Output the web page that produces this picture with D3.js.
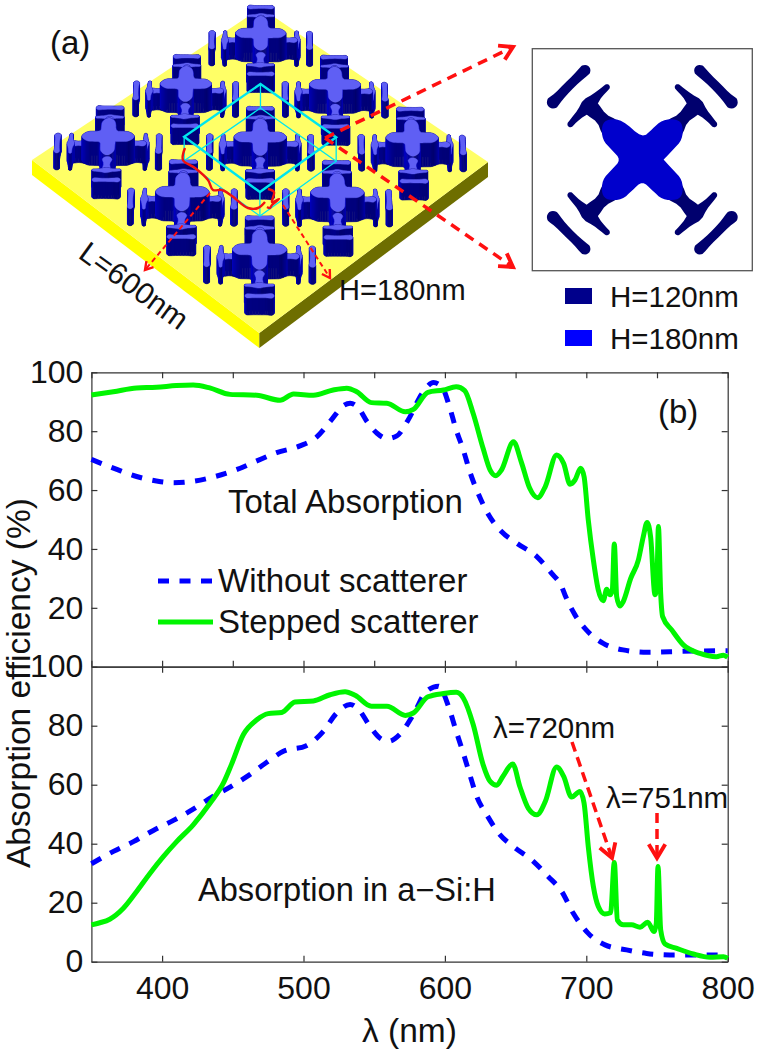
<!DOCTYPE html>
<html>
<head>
<meta charset="utf-8">
<script src="https://cdn.jsdelivr.net/npm/d3@7"></script>
<style>
  html, body { margin: 0; padding: 0; background: #fff; }
  svg { display: block; }
  text { font-family: "Liberation Sans", Arial, sans-serif; fill: #111; }
</style>
</head>
<body>
<svg id="fig" width="758" height="1053"></svg>
<script>
// wavelength (nm), absorption (%)
var totalWithout = [[350,70.4],[368,67],[382,64.6],[397,63],[408,62.5],[422,63],[437.5,64.6],[453,67],[467,69.9],[481,72.7],[497.5,75],[509,77.9],[520,84],[528,88.6],[533,89.5],[539,87.8],[545,83.2],[552,79.3],[559,77.5],[566,78.4],[574,83.8],[584,92.9],[592,96.5],[598,95],[602.5,89.5],[608,80.4],[613,73.6],[618,65.7],[624,58.3],[631,51.5],[640,45.9],[651,41.9],[665,37.4],[675.5,31.7],[682.6,27.2],[685,24.3],[692,17.6],[700,12.5],[712,7.9],[726,5.7],[743,4.9],[759,5.1],[776,5.3],[800,5.4]];
var totalStepped = [[350,92.3],[365.5,93.4],[382,94.7],[396,94.9],[410,95.5],[422,95.7],[433.7,94.7],[448,92.5],[467,92.2],[483.4,90.5],[493,92.6],[507,92.2],[521,94],[530.6,94.6],[537.6,93.4],[548,89.7],[558.9,89.5],[572,86.6],[577.7,87.4],[588,93.2],[599,94],[608,95.1],[614,93.8],[620,86],[627,74.2],[632,66.8],[636,64.9],[640,66.8],[648.5,76.4],[654,69.6],[660,60.6],[665.6,57.4],[671,61.2],[679,71.9],[684,69],[688.5,62],[692,63.4],[696,67.4],[698.4,64.6],[701.4,49.8],[705,36.2],[708.5,26],[712,22.4],[714.4,26.3],[716.8,24.4],[718.4,26],[719.8,41.7],[721.5,23.8],[723.8,20.6],[726,22],[731.4,30],[736.8,36.2],[740.3,44.2],[743,49],[745.5,44],[748.6,24.4],[749.8,26],[751,47.6],[752.6,24.9],[754,17],[760.4,12.5],[768.6,7.4],[780.4,4.5],[792,3.4],[797,3.9],[800,3.2]];
var siWithout = [[350,33.2],[365.6,37.4],[379.7,40.7],[393.8,44.5],[408,47.9],[422,51.7],[436,56],[448,59.2],[462,63.4],[474,67.6],[485.8,71.3],[502,73.2],[514,78.1],[523.5,84.3],[533,87.2],[539,85.5],[547,79.8],[554,75.8],[560,74.7],[568,77],[577.7,83.8],[587,91.7],[595.4,93.4],[602.5,86.6],[608,78.1],[613,70.7],[618,62.8],[622.5,56],[629.6,49.8],[638,43.6],[648.4,39],[661.4,34.5],[673,28.9],[682.6,23.8],[690.8,16.4],[701.4,9.6],[713.2,5.7],[728.5,4],[742.7,2.8],[759,2.3],[775.7,2.3],[800,2.3]];
var siStepped = [[350,12.5],[356,13.2],[363,14.4],[372.6,18.1],[382,23.8],[391.5,30],[401,35.7],[410.3,40.7],[422,46.4],[434,53.8],[443.4,60.6],[449,66.8],[457.5,77],[467,82],[475,84.1],[484.6,84.5],[494,88],[507,88.4],[518.8,90.5],[529.4,91.5],[536.5,90.3],[548,86.6],[559,86.6],[572,83.5],[577.7,84.3],[588,89.8],[599,90.9],[608,91.3],[613,89.4],[620,80.4],[627,66.8],[632,61.1],[636.6,59.8],[641,62.8],[648,67],[653,59.4],[659,52],[665,49.8],[671,54.3],[679,66],[684,62.8],[689.6,55.8],[695.5,57.7],[698.4,53.8],[701.4,39],[705,25.5],[708.5,18.7],[713,16.2],[717.2,16.6],[719.8,33.6],[722,14.1],[726.2,12.5],[732,12.5],[738,11.7],[743.4,13.4],[748,10.2],[749.5,13],[750.7,32.3],[752.6,10.8],[755.7,6],[764,4.5],[775.7,2.6],[787.5,1.5],[797,1.7],[800,1.1]];

var yTicks = [0, 20, 40, 60, 80, 100];
var xTicksFine = [350, 400, 450, 500, 550, 600, 650, 700, 750, 800];
var xTicks = [400, 500, 600, 700, 800];

// scatterer outline, in inset units (cell = 660 wide), upper right quadrant only
var crossOutline = [[0,64],[30,92],[60,120],[104,122],[122,104],[120,60],[92,30],[64,0]];
var stemSpine = [[100,100],[122,124],[148,150]];
var stemWidth = [30,17,24];
var barSpine = [[106,218],[118,207],[138,188],[160,164],[184,140],[204,120],[216,106]];
var barWidth = [9,10,13,24,13,10,9];
var outerSpine = [[172,268],[197,244],[225,217],[250,190],[268,172]];
var outerWidth = [17,14,14,15,19];
var cells = [0, 1, 2];

var svg = d3.select('#fig');

// ---- panel (b): the two stacked plots
var x = d3.scaleLinear().domain([350, 800]).range([91.4, 727.7]);
var yTop = d3.scaleLinear().domain([0, 100]).range([666.7, 372.3]);
var yBot = d3.scaleLinear().domain([0, 100]).range([961.7, 666.7]);

function drawAxes(y, ticksX, hideZero) {
  var xIn = svg.append('g').attr('transform', 'translate(0,' + y.range()[0] + ')')
    .call(d3.axisBottom(x).tickValues(ticksX).tickSizeInner(-6).tickSizeOuter(0).tickFormat(''));
  var xOut = svg.append('g').attr('transform', 'translate(0,' + y.range()[1] + ')')
    .call(d3.axisTop(x).tickValues(ticksX).tickSizeInner(-6).tickSizeOuter(0).tickFormat(''));
  var yL = svg.append('g').attr('transform', 'translate(' + x.range()[0] + ',0)')
    .call(d3.axisLeft(y).tickValues(hideZero ? yTicks.slice(1) : yTicks).tickSizeInner(-6).tickSizeOuter(0).tickPadding(8));
  var yR = svg.append('g').attr('transform', 'translate(' + x.range()[1] + ',0)')
    .call(d3.axisRight(y).tickValues(yTicks).tickSizeInner(-6).tickSizeOuter(0).tickFormat(''));
  [xIn, xOut, yL, yR].forEach(function(g) {
    g.selectAll('path,line').attr('stroke', '#333').attr('stroke-width', 1.2);
    g.selectAll('text').style('font-size', '32px').attr('fill', '#111').style('font-family', '"Liberation Sans"');
  });
}

drawAxes(yTop, xTicksFine, true);
drawAxes(yBot, xTicks, false);

svg.append('g').attr('transform', 'translate(0,' + yBot.range()[0] + ')')
  .call(d3.axisBottom(x).tickValues(xTicks).tickSize(0).tickPadding(15))
  .call(function(g) {
    g.select('.domain').remove();
    g.selectAll('text').style('font-size', '32px').attr('fill', '#111').style('font-family', '"Liberation Sans"');
  });

function drawCurve(data, y, colour, dash) {
  var line = d3.line().x(function(d) { return x(d[0]); }).y(function(d) { return y(d[1]); })
    .curve(d3.curveMonotoneX);
  svg.append('path').attr('d', line(data)).attr('fill', 'none')
    .attr('stroke', colour).attr('stroke-width', 5)
    .attr('stroke-dasharray', dash || null).attr('stroke-linejoin', 'round');
}

drawCurve(totalWithout, yTop, '#0000ff', '11,10.5');
drawCurve(totalStepped, yTop, '#00f500');
drawCurve(siWithout, yBot, '#0000ff', '11,10.5');
drawCurve(siStepped, yBot, '#00f500');

function label(s, px, py, size, rotate) {
  var t = svg.append('text').attr('x', px).attr('y', py).style('font-size', size + 'px').text(s);
  if (rotate) t.attr('transform', 'rotate(' + rotate + ' ' + px + ' ' + py + ')');
  return t;
}

label('Total Absorption', 228, 513, 33);
label('Without scatterer', 218, 592, 33);
label('Stepped scatterer', 218, 633, 33);
label('(b)', 658, 423, 33);
label('Absorption in a\u2212Si:H', 198, 901, 32.6);
label('\u03bb=720nm', 493, 738, 29.5);
label('\u03bb=751nm', 606, 808, 29.5);
label('\u03bb (nm)', 362, 1042, 33.5);
label('Absorption efficiency (%)', 30, 868, 33.5, -90);

svg.append('line').attr('x1', 158).attr('x2', 213).attr('y1', 581).attr('y2', 581)
  .attr('stroke', '#0000ff').attr('stroke-width', 5).attr('stroke-dasharray', '11,10.5');
svg.append('line').attr('x1', 158).attr('x2', 213).attr('y1', 622).attr('y2', 622)
  .attr('stroke', '#00f500').attr('stroke-width', 5);

// ---- scatterer shape, built once from the outline arrays
function chaikin(pts, n) {
  for (var k = 0; k < n; k++) {
    var out = [];
    pts.forEach(function(p, i) {
      var q = pts[(i + 1) % pts.length];
      out.push([p[0] * .75 + q[0] * .25, p[1] * .75 + q[1] * .25]);
      out.push([p[0] * .25 + q[0] * .75, p[1] * .25 + q[1] * .75]);
    });
    pts = out;
  }
  return pts;
}

// half circle of points round an end of a spine
function cap(c, dir, r) {
  var a0 = Math.atan2(dir[1], dir[0]);
  return [.8, .4, 0, -.4, -.8].map(function(k) {
    var t = a0 + k * Math.PI / 2;
    return [c[0] + r * Math.cos(t), c[1] + r * Math.sin(t)];
  });
}

// outline around a spine with a half width at each spine point, ends capped
function ribbon(spine, width) {
  var left = [], right = [], n = spine.length;
  spine.forEach(function(p, i) {
    var a = spine[Math.max(i - 1, 0)], b = spine[Math.min(i + 1, n - 1)];
    var dx = b[0] - a[0], dy = b[1] - a[1], l = Math.hypot(dx, dy);
    left.push([p[0] - dy / l * width[i], p[1] + dx / l * width[i]]);
    right.push([p[0] + dy / l * width[i], p[1] - dx / l * width[i]]);
  });
  var d0 = [spine[0][0] - spine[1][0], spine[0][1] - spine[1][1]];
  var d1 = [spine[n-1][0] - spine[n-2][0], spine[n-1][1] - spine[n-2][1]];
  return chaikin(left.concat(cap(spine[n-1], d1, width[n-1]), right.reverse(), cap(spine[0], d0, width[0])), 1);
}

function mirrored(pts, sx, sy) {
  return pts.map(function(p) { return [p[0] * sx, p[1] * sy]; });
}

// full cross from one quadrant
var q1 = crossOutline;
var q2 = crossOutline.slice(1).reverse().map(function(p) { return [p[0], -p[1]]; });
var q3 = crossOutline.slice(0, -1).map(function(p) { return [-p[0], -p[1]]; });
var q4 = crossOutline.slice(1).reverse().map(function(p) { return [-p[0], p[1]]; }).slice(0, -1);
var crossShape = chaikin(q1.concat(q2, q3, q4), 2);

var pieces = [{ pts: crossShape, high: true }];
[[1,1],[1,-1],[-1,-1],[-1,1]].forEach(function(s) {
  pieces.push({ pts: mirrored(ribbon(stemSpine, stemWidth), s[0], s[1]), high: false });
  pieces.push({ pts: mirrored(ribbon(barSpine, barWidth), s[0], s[1]), high: false });
  pieces.push({ pts: mirrored(ribbon(outerSpine, outerWidth), s[0], s[1]), high: false });
});

// ---- panel (a): plate seen in perspective, unit square mapped to four corners
var plateCorners = [[261,8],[488,162],[259.3,333],[32,160]];
var plateDepth = 15;
var cellHeight = 660;
var highPx = 24, lowPx = 17;

function homography(c) {
  var dx1 = c[1][0] - c[2][0], dx2 = c[3][0] - c[2][0], sx = c[0][0] - c[1][0] + c[2][0] - c[3][0];
  var dy1 = c[1][1] - c[2][1], dy2 = c[3][1] - c[2][1], sy = c[0][1] - c[1][1] + c[2][1] - c[3][1];
  var det = dx1 * dy2 - dx2 * dy1;
  var g = (sx * dy2 - dx2 * sy) / det, h = (dx1 * sy - sx * dy1) / det;
  var a = c[1][0] - c[0][0] + g * c[1][0], b = c[3][0] - c[0][0] + h * c[3][0];
  var d = c[1][1] - c[0][1] + g * c[1][1], e = c[3][1] - c[0][1] + h * c[3][1];
  return function(u, v) {
    var w = g * u + h * v + 1;
    return [(a * u + b * v + c[0][0]) / w, (d * u + e * v + c[0][1]) / w];
  };
}
var plate = homography(plateCorners);

var gA = svg.insert('g', ':first-child');
function poly(pts, fill, stroke, sw) {
  gA.append('polygon').attr('points', pts.map(function(p) { return p.join(','); }).join(' '))
    .attr('fill', fill).attr('stroke', stroke || 'none').attr('stroke-width', sw || 0);
}
function down(p, h) { return [p[0], p[1] + h]; }

poly([plateCorners[3], plateCorners[2], down(plateCorners[2], plateDepth), down(plateCorners[3], plateDepth)], '#ffff00');
poly([plateCorners[2], plateCorners[1], down(plateCorners[1], plateDepth), down(plateCorners[2], plateDepth)], '#6e6e00');
poly(plateCorners, '#ffff66');

// all prisms of all cells, back to front
var prisms = [];
cells.forEach(function(i) {
  cells.forEach(function(j) {
    var cu = (i + .5) / cells.length, cv = (j + .5) / cells.length;
    pieces.forEach(function(pc) {
      var base = pc.pts.map(function(p) {
        return plate(cu + p[0] / cellHeight / cells.length, cv - p[1] / cellHeight / cells.length);
      });
      var cy = d3.mean(base, function(p) { return p[1]; });
      prisms.push({ base: base, h: pc.high ? highPx : lowPx, depth: cy });
    });
  });
});
prisms.sort(function(a, b) { return a.depth - b.depth; });

var sideShade = d3.scaleLinear().domain([-1, -.3, .3, 1]).range(['#0000c4', '#000090', '#00006e', '#0000b0']);
prisms.forEach(function(pr) {
  var cx = d3.mean(pr.base, function(p) { return p[0]; });
  var sides = pr.base.map(function(p, i) {
    var q = pr.base[(i + 1) % pr.base.length];
    return { p: p, q: q, my: (p[1] + q[1]) / 2, nx: ((p[0] + q[0]) / 2 - cx) };
  }).sort(function(a, b) { return a.my - b.my; });
  sides.forEach(function(s) {
    var len = Math.hypot(s.q[0] - s.p[0], s.q[1] - s.p[1]) || 1;
    var nx = Math.abs(s.q[1] - s.p[1]) / len;
    if (s.nx < 0) nx = -nx;
    var c = sideShade(nx);
    poly([s.p, s.q, down(s.q, -pr.h), down(s.p, -pr.h)], c, c, .6);
  });
  poly(pr.base.map(function(p) { return down(p, -pr.h); }), '#5f5ff4', '#5f5ff4', .4);
});

// unit cell wireframe
var cellU = [1/3, 2/3, 2/3, 1/3], cellV = [1/3, 1/3, 2/3, 2/3];
var cellBase = cellU.map(function(u, i) { return plate(u, cellV[i]); });
var cellTop = cellBase.map(function(p) { return down(p, -highPx); });
poly(cellBase, 'none', '#00e6ee', 1.3);
cellBase.forEach(function(p, i) {
  gA.append('line').attr('x1', p[0]).attr('y1', p[1]).attr('x2', cellTop[i][0]).attr('y2', cellTop[i][1])
    .attr('stroke', '#00e6ee').attr('stroke-width', 1.3);
});
poly(cellTop, 'none', '#00e6ee', 2.4);

// brackets and arrows
var bracketLine = d3.line().curve(d3.curveCatmullRom);
var bracketL = [[185,148],[183,160],[195,168],[208,180],[213,190],[222,190],[232,196],[248,208],[258,208],[265,202]];
var bracketH = [[268,189],[274,192],[272,202],[279,199],[272,205],[270,208],[267,207]];
[bracketL, bracketH].forEach(function(b) {
  gA.append('path').attr('d', bracketLine(b)).attr('fill', 'none').attr('stroke', '#f01010').attr('stroke-width', 2.4);
});

function arrow(a, b, w, dash, head) {
  gA.append('line').attr('x1', a[0]).attr('y1', a[1]).attr('x2', b[0]).attr('y2', b[1])
    .attr('stroke', '#ff1010').attr('stroke-width', w).attr('stroke-dasharray', dash);
  var ang = Math.atan2(b[1] - a[1], b[0] - a[0]);
  var pts = [ang + 2.6, ang, ang - 2.6].map(function(t, i) {
    return i == 1 ? b : [b[0] + head * Math.cos(t), b[1] + head * Math.sin(t)];
  });
  gA.append('polyline').attr('points', pts.join(' ')).attr('fill', 'none')
    .attr('stroke', '#ff1010').attr('stroke-width', w + .4).attr('stroke-linejoin', 'miter');
}
arrow([325,138], [513,47], 3.5, '10,7', 15);
arrow([325,138], [513,267], 3.5, '10,7', 15);
arrow([210,193], [145,270], 2, '5,3.5', 9);
arrow([283,205], [330,278], 2, '5,3.5', 9);

// arrows of the lower plot sit over the curves
var gSave = gA;
gA = svg.append('g');
arrow([572,742], [612,858], 3.5, '10,6', 16);
arrow([657,813], [657,858], 3.5, '10,6', 16);
gA = gSave;

label('(a)', 50, 54, 33);
label('L=600nm', 77, 257, 30, 36);
label('H=180nm', 339, 300, 29);

// ---- inset unit cell seen from above
var insetX = d3.scaleLinear().domain([-330, 330]).range([532.3, 752.3]);
var insetY = d3.scaleLinear().domain([-333, 333]).range([270.7, 48.7]);
svg.append('rect').attr('x', insetX(-330)).attr('y', insetY(333))
  .attr('width', insetX(330) - insetX(-330)).attr('height', insetY(-333) - insetY(333))
  .attr('fill', '#fff').attr('stroke', '#555').attr('stroke-width', 1.3);
var insetLine = d3.line().x(function(d) { return insetX(d[0]); }).y(function(d) { return insetY(d[1]); }).curve(d3.curveLinearClosed);
svg.append('g').selectAll('path')
  .data(pieces.slice(1).concat(pieces[0]))
  .enter().append('path')
  .attr('d', function(d) { return insetLine(d.pts); })
  .attr('fill', function(d) { return d.high ? '#0000cc' : '#00006e'; });

// inset key
var keyLabels = ['H=120nm', 'H=180nm'], keyColours = ['#00008b', '#0000ff'];
var keyY = d3.scaleOrdinal().domain(keyLabels).range([296, 338]);
keyLabels.forEach(function(k, i) {
  svg.append('rect').attr('x', 565).attr('y', keyY(k) - 8).attr('width', 27).attr('height', 16).attr('fill', keyColours[i]);
  label(k, 610, keyY(k) + 11, 29.5);
});
</script>
</body>
</html>
